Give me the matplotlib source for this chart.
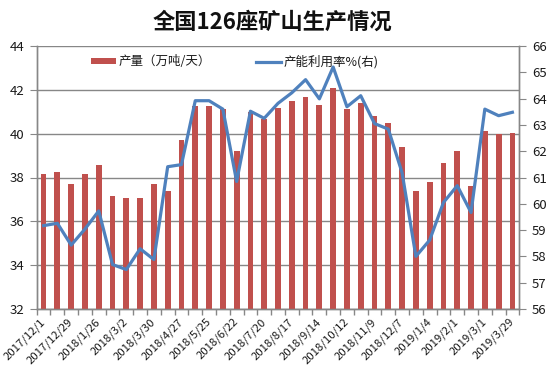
import matplotlib
matplotlib.use("Agg")
import matplotlib.pyplot as plt
import numpy as np

plt.rcParams['font.family'] = ['Noto Sans CJK SC', 'DejaVu Sans']

dates = ["2017/12/1", "2017/12/15", "2017/12/29", "2018/1/12", "2018/1/26", "2018/2/9",
         "2018/3/2", "2018/3/16", "2018/3/30", "2018/4/13", "2018/4/27", "2018/5/11",
         "2018/5/25", "2018/6/8", "2018/6/22", "2018/7/6", "2018/7/20", "2018/8/3",
         "2018/8/17", "2018/8/31", "2018/9/14", "2018/9/28", "2018/10/12", "2018/10/26",
         "2018/11/9", "2018/11/23", "2018/12/7", "2018/12/21", "2019/1/4", "2019/1/18",
         "2019/2/1", "2019/2/15", "2019/3/1", "2019/3/15", "2019/3/29"]

output = [38.18, 38.27, 37.69, 38.18, 38.58, 37.17, 37.08, 37.08, 37.69, 37.39,
          39.69, 41.28, 41.28, 41.11, 39.19, 40.98, 40.66, 41.19, 41.51, 41.69,
          41.30, 42.09, 41.13, 41.40, 40.80, 40.48, 39.39, 37.38, 37.78, 38.67,
          39.21, 37.60, 40.10, 39.99, 40.05]

utilization = [59.17, 59.26, 58.43, 59.04, 59.73, 57.69, 57.50, 58.29, 57.88, 61.41,
               61.49, 63.92, 63.92, 63.60, 60.85, 63.52, 63.25, 63.82, 64.22, 64.72,
               63.99, 65.20, 63.69, 64.11, 63.05, 62.84, 61.18, 58.00, 58.62, 60.05,
               60.69, 59.67, 63.60, 63.35, 63.48]

title = "全国126座矿山生产情况"
bar_label = "产量（万吨/天）"
line_label = "产能利用率%(右)"

W, H = 550, 377
fig = plt.figure(figsize=(W / 100, H / 100), dpi=100)
l, r, t, b = 36.7, 519.3, 46, 309
ax = fig.add_axes([l / W, 1 - b / H, (r - l) / W, (b - t) / H])
ax2 = ax.twinx()

x = np.arange(len(dates))
grid_c = '#878787'
text_c = '#1a1a1a'
bars = ax.bar(x, output, width=0.42, color='#C0504D', zorder=3)
line, = ax2.plot(x, utilization, color='#4F81BD', lw=2.3, zorder=4)

ax.set_xlim(-0.5, len(dates) - 0.5)
ax.set_ylim(32, 44)
ax.set_yticks(np.arange(32, 45, 2))
ax2.set_ylim(56, 66)
ax2.set_yticks(np.arange(56, 67, 1))

ax.yaxis.grid(True, color=grid_c, lw=1.0, zorder=0)
ax.set_axisbelow(True)

ax.set_xticks(x[::2])
ax.set_xticklabels(dates[::2], rotation=45, ha='right', va='center', rotation_mode='anchor',
                   fontsize=8.2, color=text_c)
ax.set_xticks(np.arange(-0.5, len(dates), 1), minor=True)
ax.tick_params(axis='x', which='major', length=0, pad=8)
ax.tick_params(axis='x', which='minor', length=4, color=grid_c, width=1)
ax.tick_params(axis='y', length=5, color=grid_c, labelsize=9.5, labelcolor=text_c, pad=4)
ax2.tick_params(axis='y', length=5, color=grid_c, labelsize=9.5, labelcolor=text_c, pad=4)

for a in (ax, ax2):
    a.spines['top'].set_visible(False)
    for s in ('left', 'right', 'bottom'):
        a.spines[s].set_color(grid_c)
        a.spines[s].set_linewidth(1.0)

fig.text(272 / W, 1 - 22 / H, title, ha='center', va='center', fontsize=16, fontweight='bold', color='#111111')

leg = ax.legend([bars, line], [bar_label, line_label], loc='upper left', bbox_to_anchor=(0.095, 1.0),
                ncol=2, frameon=False, fontsize=9, handlelength=2.0, handleheight=0.35,
                columnspacing=3.6, handletextpad=0.2, borderaxespad=0.3)
for txt in leg.get_texts():
    txt.set_color(text_c)

fig.savefig('out.png', dpi=100)
